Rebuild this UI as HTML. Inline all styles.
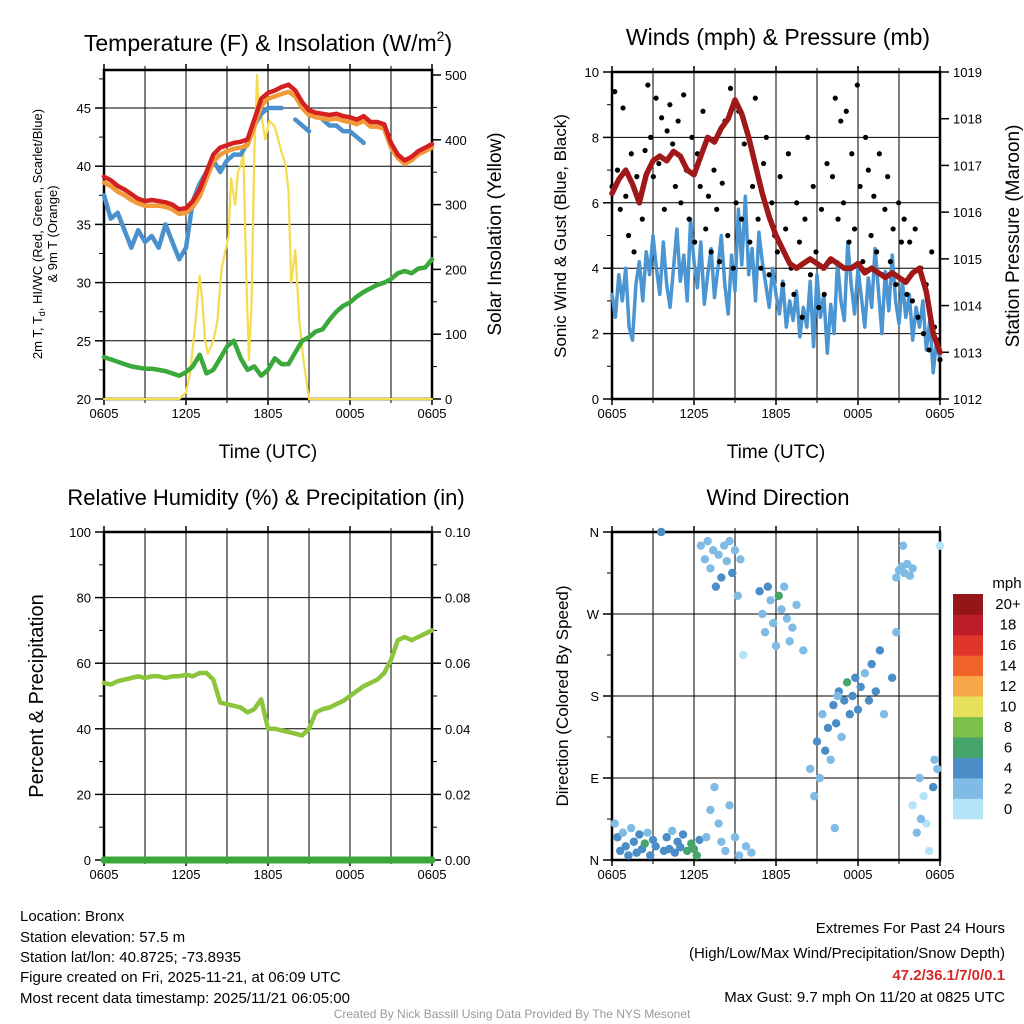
<!DOCTYPE html>
<html><head><meta charset="utf-8"><style>
body{margin:0;background:#fff;}
svg{display:block;font-family:"Liberation Sans",Arial,sans-serif;}
</style></head><body>
<svg id="svg" width="1024" height="1024" viewBox="0 0 1024 1024" xmlns="http://www.w3.org/2000/svg">
<rect width="1024" height="1024" fill="#fff"/>
<text x="268" y="51" font-size="23" text-anchor="middle">Temperature (F) &amp; Insolation (W/m<tspan font-size="14" dy="-10">2</tspan><tspan dy="10">)</tspan></text>
<text x="778" y="45" font-size="23" text-anchor="middle">Winds (mph) &amp; Pressure (mb)</text>
<text x="266" y="505" font-size="22" text-anchor="middle">Relative Humidity (%) &amp; Precipitation (in)</text>
<text x="778" y="505" font-size="22" text-anchor="middle">Wind Direction</text>

<text x="268" y="458" font-size="19" text-anchor="middle">Time (UTC)</text>
<text x="776" y="458" font-size="19" text-anchor="middle">Time (UTC)</text>

<text transform="translate(42,234) rotate(-90)" font-size="13" text-anchor="middle">2m T, T<tspan font-size="9" dy="3">d</tspan><tspan dy="-3">, HI/WC (Red, Green, Scarlet/Blue)</tspan></text>
<text transform="translate(57,234) rotate(-90)" font-size="13" text-anchor="middle">&amp; 9m T (Orange)</text>
<text transform="translate(501,234) rotate(-90)" font-size="19" text-anchor="middle">Solar Insolation (Yellow)</text>
<text transform="translate(566,236) rotate(-90)" font-size="17" text-anchor="middle">Sonic Wind &amp; Gust (Blue, Black)</text>
<text transform="translate(1019,236) rotate(-90)" font-size="19" text-anchor="middle">Station Pressure (Maroon)</text>
<text transform="translate(43,696) rotate(-90)" font-size="20" text-anchor="middle">Percent &amp; Precipitation</text>
<text transform="translate(568,696) rotate(-90)" font-size="17" text-anchor="middle">Direction (Colored By Speed)</text>

<g font-size="15">
<text x="20" y="921">Location: Bronx</text>
<text x="20" y="942">Station elevation: 57.5 m</text>
<text x="20" y="962">Station lat/lon: 40.8725; -73.8935</text>
<text x="20" y="982">Figure created on Fri, 2025-11-21, at 06:09 UTC</text>
<text x="20" y="1003">Most recent data timestamp: 2025/11/21 06:05:00</text>
</g>
<g font-size="15" text-anchor="end">
<text x="1005" y="933">Extremes For Past 24 Hours</text>
<text x="1005" y="958">(High/Low/Max Wind/Precipitation/Snow Depth)</text>
<text x="1005" y="980" fill="#d42a2a" font-weight="bold">47.2/36.1/7/0/0.1</text>
<text x="1005" y="1002">Max Gust: 9.7 mph On 11/20 at 0825 UTC</text>
</g>
<text x="512" y="1018" font-size="12" fill="#999" text-anchor="middle">Created By Nick Bassill Using Data Provided By The NYS Mesonet</text>
<g id="layer"></g>
</svg>
<script>
// ---- data ----
const xTickLabels = ["0605","1205","1805","0005","0605"];
const tRed = [39.1,38.8,38.3,38.0,37.6,37.2,37.0,37.1,37.0,36.9,36.7,36.3,36.4,37.0,38.0,39.5,41.0,41.6,41.8,42.0,42.1,42.3,44.0,45.8,46.3,46.5,46.8,47.0,46.5,45.5,44.8,44.6,44.5,44.4,44.5,44.3,44.2,44.0,44.3,43.8,43.8,43.6,42.0,41.0,40.5,40.8,41.3,41.6,41.9];
const tOrange = [38.6,38.3,37.8,37.5,37.1,36.8,36.6,36.6,36.6,36.5,36.3,35.9,36.0,36.5,37.4,38.9,40.4,41.0,41.3,41.5,41.6,41.8,43.4,45.2,45.8,46.0,46.2,46.4,46.0,45.0,44.4,44.2,44.1,44.0,44.1,43.9,43.8,43.6,43.9,43.4,43.4,43.2,41.6,40.7,40.2,40.5,41.0,41.3,41.6];
const tBlue = [37.5,35.5,36.0,34.5,33.0,34.5,33.5,34.0,33.0,35.0,33.5,32.0,33.0,37.0,38.5,39.5,40.5,39.5,40.5,41.0,41.0,42.0,43.5,44.5,45.0,45.0,45.0,null,44.0,43.5,43.0,null,44.0,43.5,43.5,43.0,43.0,42.5,42.0,null,null,null,null,null,null,null,null,null,null];
const tDew = [23.6,23.4,23.2,23.0,22.8,22.7,22.6,22.6,22.5,22.4,22.2,22.0,22.3,22.8,23.8,22.2,22.5,23.5,24.5,25.0,23.5,22.5,22.8,22.0,22.5,23.5,23.0,23.0,24.0,25.0,25.3,25.8,26.0,26.8,27.5,28.0,28.3,28.8,29.2,29.5,29.8,30.0,30.3,30.8,31.0,30.8,31.2,31.3,32.0];
const solT = [0,5.5,6,6.3,6.5,6.7,6.9,7.0,7.2,7.4,7.6,7.8,8.0,8.3,8.6,8.9,9.1,9.3,9.6,9.8,10.0,10.2,10.4,10.6,10.8,11.0,11.2,11.3,11.5,11.8,12.1,12.5,13.0,13.3,13.5,13.7,14.0,14.3,14.6,15.0,24];
const solV = [0,0,10,40,80,120,170,190,150,90,70,80,90,120,200,230,250,340,300,350,360,380,200,60,150,380,500,460,440,400,430,420,380,360,320,180,230,120,60,0,0];
const wind = [3.2,2.5,3.8,3.0,4.0,2.2,1.8,3.5,4.2,3.0,4.5,3.8,5.0,4.0,3.2,4.8,3.5,2.8,4.0,5.2,3.6,4.4,3.0,5.5,4.2,3.4,4.8,2.9,3.8,4.6,3.1,4.0,5.0,3.5,2.6,4.4,3.3,5.8,4.1,6.2,3.8,4.6,3.0,5.1,4.2,3.5,2.8,4.0,3.2,2.6,3.6,2.2,3.0,2.4,3.3,1.9,2.8,2.2,3.6,1.6,3.8,2.5,3.2,1.4,2.9,2.0,4.2,3.0,2.4,4.8,3.5,2.6,4.0,3.1,2.2,3.7,2.8,4.6,3.3,2.0,3.9,2.7,4.4,3.0,2.3,3.6,2.5,3.2,1.8,2.8,2.2,3.0,1.5,2.4,0.8,1.8,1.2];
const gust = [6.5,9.4,7.0,5.8,8.9,6.2,5.0,7.5,4.5,6.8,6.0,5.5,7.6,9.6,8.0,6.8,9.2,7.2,8.6,5.8,8.2,9.0,7.8,6.5,8.5,6.0,9.3,7.0,5.5,8.0,4.8,7.5,6.5,8.8,5.2,6.2,4.5,7.0,5.8,4.2,6.6,8.5,5.0,9.5,4.0,6.0,8.8,5.5,7.8,8.2,4.8,6.5,9.2,5.5,4.0,7.2,8.0,3.8,6.0,5.0,4.5,6.8,3.5,5.2,7.5,4.0,3.2,6.0,4.8,2.5,5.5,8.0,3.8,6.5,4.5,2.8,5.8,3.2,7.2,4.2,6.8,9.2,5.5,8.5,6.0,8.8,4.8,7.5,5.2,9.6,6.5,4.2,8.0,7.0,5.0,6.2,4.5,7.5,3.8,5.8,6.8,4.2,5.2,3.5,6.0,4.8,5.5,3.2,4.8,3.0,5.2,2.5,4.0,2.0,3.5,1.5,4.5,2.2,1.8,1.2];
const pres = [1016.4,1016.7,1016.9,1016.6,1016.2,1016.8,1017.1,1017.2,1017.1,1017.3,1017.2,1016.9,1016.8,1017.2,1017.6,1017.5,1017.8,1018.0,1018.4,1018.1,1017.6,1017.0,1016.4,1015.9,1015.5,1015.2,1014.9,1014.8,1014.9,1015.0,1014.9,1014.8,1015.0,1014.9,1014.8,1014.8,1014.9,1014.7,1014.8,1014.7,1014.6,1014.7,1014.6,1014.5,1014.7,1014.8,1014.3,1013.4,1013.0];
const rh = [54,53.5,54.5,55,55.5,56,55.5,56,56,55.5,56,56,56.5,56,57,57,55,48,47.5,47,46.5,45,46,49,40,40,39.5,39,38.5,38,40,45,46,46.5,47.5,48.5,50,51.5,53,54,55,57,61,67,68,67,68,69,70];
const precip = [0,0,0,0,0,0,0,0,0,0,0,0,0,0,0,0,0,0,0,0,0,0,0,0,0,0,0,0,0,0,0,0,0,0,0,0,0,0,0,0,0,0,0,0,0,0,0,0,0];
const dirT = [0.2,0.4,0.6,0.8,1.0,1.2,1.4,1.6,1.8,2.0,2.2,2.4,2.6,2.8,3.0,3.2,3.6,3.8,4.0,4.2,4.4,4.6,4.8,5.0,5.2,5.5,5.8,6.0,6.2,6.4,
6.5,6.8,7.0,7.2,7.4,7.6,7.8,8.0,8.2,8.4,8.6,8.8,9.0,9.2,9.4,9.6,7.5,7.8,8.0,8.3,8.6,9.0,9.3,9.8,10.2,6.9,7.2,
10.8,11.0,11.2,11.4,11.6,11.8,12.0,12.2,12.4,12.6,12.8,13.0,13.2,13.5,14.0,
14.5,14.8,15.0,15.2,15.4,15.6,15.8,16.0,16.2,16.4,16.6,16.8,17.0,17.2,17.4,17.6,17.8,18.0,18.2,18.5,18.8,19.0,19.3,19.6,19.9,16.3,16.5,
20.8,21.0,21.2,21.4,21.6,21.8,22.0,20.5,20.8,21.3,
22.0,22.3,22.5,22.8,23.0,23.2,23.5,23.8,24.0,23.6,22.6];
const dirD = [40,25,10,30,15,5,35,20,8,28,12,18,30,5,22,15,360,10,25,12,32,8,20,14,28,10,18,12,5,22,
345,330,350,320,340,300,335,310,345,328,350,315,340,290,330,225,80,40,20,10,60,25,5,15,8,25,55,
295,270,250,300,285,260,235,290,275,300,265,240,255,280,230,
100,70,130,90,160,120,145,110,170,150,185,135,175,195,160,180,200,165,190,205,175,215,185,230,160,35,180,
310,318,322,315,325,312,320,200,250,345,
60,30,90,70,40,10,80,100,345,110,45];
const dirS = [3,4,4,3,4,4,3,4,4,4,4,6,3,4,4,4,4,4,4,4,3,4,4,4,4,6,6,6,6,4,
2,2,2,2,3,4,2,4,2,3,3,4,2,3,2,1,2,2,3,2,2,3,2,2,3,2,2,
4,3,2,4,2,3,2,6,3,2,2,3,2,3,2,
3,3,4,2,3,4,4,3,4,4,4,3,4,6,4,4,4,4,4,3,4,4,4,4,3,2,3,
2,3,2,3,2,3,2,4,3,2,
1,2,2,1,1,1,4,2,1,3,2];
const cbLabels = ["0","2","4","6","8","10","12","14","16","18","20+"];
const cbColors = ["#b5e3f7","#7fbbe5","#4a8dc7","#47a46c","#7cbf4a","#e6e05a","#f8a848","#f0642c","#e0352a","#be1c28","#941619"];

const NS="http://www.w3.org/2000/svg";
const layer=document.getElementById('layer');
function mk(tag,attrs,parent){const e=document.createElementNS(NS,tag);for(const k in attrs)e.setAttribute(k,attrs[k]);(parent||layer).appendChild(e);return e;}
function scale(d0,d1,r0,r1){return v=>r0+(v-d0)/(d1-d0)*(r1-r0);}

function panel(name,x0,y0,x1,y1,yTicks,yFn,yMinor,rTicks,rFn,rMinor,gridY){
  const g=mk('g',{});
  
  
  const X=scale(0,24,x0,x1);
  for(let h=3;h<24;h+=3){mk('line',{x1:X(h),x2:X(h),y1:y0,y2:y1,stroke:'#000','stroke-width':1},g);}
  gridY.forEach(v=>{mk('line',{x1:x0,x2:x1,y1:yFn(v),y2:yFn(v),stroke:'#000','stroke-width':1},g);});
  xTickLabels.forEach((l,i)=>{const x=X(i*6);
    const t=mk('text',{x:x,y:y1+19,'font-size':13,'text-anchor':'middle'},g);t.textContent=l;
    
    
    mk('line',{x1:x,x2:x,y1:y1,y2:y1+6,stroke:'#000','stroke-width':1.5},g);
    mk('line',{x1:x,x2:x,y1:y0,y2:y0-6,stroke:'#000','stroke-width':1.5},g);});
  for(let h=3;h<24;h+=6){mk('line',{x1:X(h),x2:X(h),y1:y1,y2:y1+4,stroke:'#000'},g);mk('line',{x1:X(h),x2:X(h),y1:y0,y2:y0-4,stroke:'#000'},g);}
  yTicks.forEach(tk=>{const y=yFn(tk[0]);
    mk('line',{x1:x0-9,x2:x0,y1:y,y2:y,stroke:'#000','stroke-width':1.5},g);
    const t=mk('text',{x:x0-13,y:y+5,'font-size':13,'text-anchor':'end'},g);t.textContent=tk[1];
    
    });
  yMinor.forEach(v=>mk('line',{x1:x0-5,x2:x0,y1:yFn(v),y2:yFn(v),stroke:'#000'},g));
  if(rTicks){rTicks.forEach(tk=>{const y=rFn(tk[0]);
    mk('line',{x1:x1,x2:x1+9,y1:y,y2:y,stroke:'#000','stroke-width':1.5},g);
    const t=mk('text',{x:x1+13,y:y+5,'font-size':13,'text-anchor':'start'},g);t.textContent=tk[1];
    
    });
    rMinor.forEach(v=>mk('line',{x1:x1,x2:x1+5,y1:rFn(v),y2:rFn(v),stroke:'#000'},g));}
  mk('rect',{x:x0,y:y0,width:x1-x0,height:y1-y0,fill:'none',stroke:'#000','stroke-width':2.5},g);
  return {X,g};
}
function series(name,vals,tfn,X,Y,color,w,parent){
  let d='',pen=false;
  vals.forEach((v,i)=>{if(v===null){pen=false;return;}const x=X(tfn(i)),y=Y(v);d+=(pen?'L':'M')+x.toFixed(1)+' '+y.toFixed(1);pen=true;});
  const p=mk('path',{d:d,fill:'none',stroke:color,'stroke-width':w,'stroke-linejoin':'round','stroke-linecap':'round'},parent);
  
  
  return p;
}
const half=i=>i*0.5;

// Panel 1
const Yt=scale(20,45,399,108), Ys=scale(0,500,399,75);
const p1=panel('temperature-panel',104,70,432,399,[[20,'20'],[25,'25'],[30,'30'],[35,'35'],[40,'40'],[45,'45']],Yt,[22.5,27.5,32.5,37.5,42.5,47.5],
 [[0,'0'],[100,'100'],[200,'200'],[300,'300'],[400,'400'],[500,'500']],Ys,[50,150,250,350,450],[25,30,35,40,45]);
series('solar-insolation-line',solV,i=>solT[i],p1.X,Ys,'#f5dc4c',2.2,p1.g);
series('dewpoint-line',tDew,half,p1.X,Yt,'#3aa83a',4.5,p1.g);
series('hi-wc-line',tBlue,half,p1.X,Yt,'#4a90cc',4.5,p1.g);
series('temp-9m-line',tOrange,half,p1.X,Yt,'#f29a3a',4.5,p1.g);
series('temp-2m-line',tRed,half,p1.X,Yt,'#d42020',4.5,p1.g);

// Panel 2
const Yw=scale(0,10,399,72), Yp=scale(1012,1019,399,72);
const p2=panel('winds-panel',612,72,940,399,[[0,'0'],[2,'2'],[4,'4'],[6,'6'],[8,'8'],[10,'10']],Yw,[1,3,5,7,9],
 [[1012,'1012'],[1013,'1013'],[1014,'1014'],[1015,'1015'],[1016,'1016'],[1017,'1017'],[1018,'1018'],[1019,'1019']],Yp,[],[2,4,6,8]);
series('sonic-wind-line',wind,i=>i*0.25,p2.X,Yw,'#4a95d2',3.5,p2.g);
gust.forEach((v,i)=>{const c=mk('circle',{cx:p2.X(i*24/119),cy:Yw(v),r:2.6,fill:'#000'},p2.g);
 
 });
series('pressure-line',pres,half,p2.X,Yp,'#a01818',5.5,p2.g);

// Panel 3
const Yr=scale(0,100,860,532);
const p3=panel('humidity-panel',104,532,432,860,[[0,'0'],[20,'20'],[40,'40'],[60,'60'],[80,'80'],[100,'100']],Yr,[10,30,50,70,90],
 [[0,'0.00'],[20,'0.02'],[40,'0.04'],[60,'0.06'],[80,'0.08'],[100,'0.10']],Yr,[10,30,50,70,90],[20,40,60,80]);
series('relative-humidity-line',rh,half,p3.X,Yr,'#8cc43c',4.5,p3.g);
const Yprc=scale(0,0.1,860,532);
series('precipitation-line',precip,half,p3.X,Yprc,'#3aa83a',7,p3.g);

// Panel 4
const Yd=scale(0,360,860,532);
const p4=panel('wind-direction-panel',612,532,940,860,[[0,'N'],[90,'E'],[180,'S'],[270,'W'],[360,'N']],Yd,[45,135,225,315],null,null,null,[90,180,270]);
dirT.forEach((t,i)=>{const bin=Math.min(10,Math.floor(dirS[i]/2));
 const c=mk('circle',{cx:p4.X(t),cy:Yd(dirD[i]),r:4.2,fill:cbColors[bin]},p4.g);
 
 });

// colorbar
const cb=mk('g',{});


const bh=225/11;
cbColors.forEach((col,i)=>{const y=819-(i+1)*bh;mk('rect',{x:953,y:y,width:30,height:bh+0.3,fill:col},cb);
 const t=mk('text',{x:1008,y:y+bh/2+5,'font-size':15,'text-anchor':'middle'},cb);t.textContent=cbLabels[i];
 
 });
const mt=mk('text',{x:1007,y:588,'font-size':15,'text-anchor':'middle'},cb);mt.textContent='mph';
</script>
</body></html>
